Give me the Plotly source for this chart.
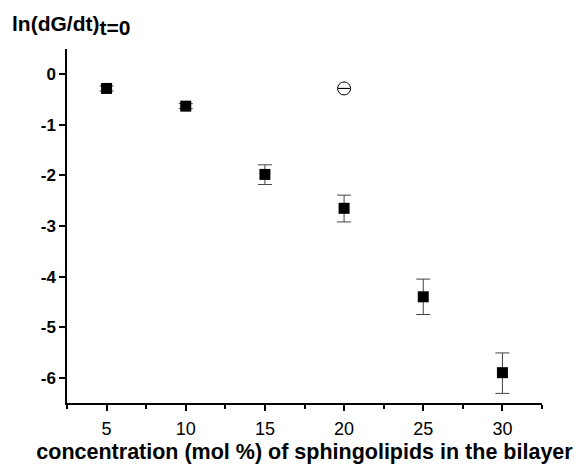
import plotly.graph_objects as go

conc = [5, 10, 15, 20, 25, 30]
ln_rate = [-0.28, -0.63, -1.98, -2.65, -4.40, -5.90]
err_plus = [0.05, 0.05, 0.19, 0.26, 0.35, 0.39]
err_minus = [0.05, 0.05, 0.20, 0.27, 0.35, 0.41]

open_x = [20]
open_y = [-0.28]
open_err = [0.0]

x_tickvals = [5, 10, 15, 20, 25, 30]
x_ticktext = ["5", "10", "15", "20", "25", "30"]
y_tickvals = [0, -1, -2, -3, -4, -5, -6]
y_ticktext = ["0", "-1", "-2", "-3", "-4", "-5", "-6"]

font = "Liberation Sans, Arial, sans-serif"

fig = go.Figure()
fig.add_trace(go.Scatter(
    x=conc, y=ln_rate, mode="markers",
    marker=dict(symbol="square", size=11, color="black"),
    error_y=dict(type="data", symmetric=False, array=err_plus, arrayminus=err_minus,
                 color="#444", thickness=1, width=7),
    showlegend=False,
))
fig.add_trace(go.Scatter(
    x=open_x, y=open_y, mode="markers",
    marker=dict(symbol="circle-open", size=13, color="black", line=dict(width=1)),
    error_y=dict(type="data", array=open_err, color="black", thickness=1, width=6),
    showlegend=False,
))

fig.update_layout(
    width=575, height=467,
    margin=dict(l=67, r=33, t=49, b=64),
    paper_bgcolor="white", plot_bgcolor="white",
    font=dict(family=font, color="black"),
    xaxis=dict(
        range=[2.5, 32.5], tickvals=x_tickvals, ticktext=x_ticktext,
        automargin=False,
        showgrid=False, zeroline=False, showline=True, linecolor="black", linewidth=1.5,
        ticks="outside", ticklen=6, tickwidth=1.5, tickcolor="black",
        ticklabelstandoff=3,
        tickfont=dict(size=18, family=font),
        minor=dict(tickvals=[2.5, 7.5, 12.5, 17.5, 22.5, 27.5, 32.5], ticks="outside",
                   ticklen=4, tickwidth=1.5, tickcolor="black"),
        title=dict(text="<b>concentration (mol %) of sphingolipids in the bilayer</b>",
                   font=dict(size=21.5, family=font), standoff=6),
    ),
    yaxis=dict(
        range=[-6.5, 0.5], tickvals=y_tickvals, ticktext=["<b>%s</b>" % t for t in y_ticktext],
        automargin=False,
        showgrid=False, zeroline=False, showline=True, linecolor="black", linewidth=1.5,
        ticks="outside", ticklen=6, tickwidth=1.5, tickcolor="black",
        tickfont=dict(size=17, family=font),
    ),
    annotations=[dict(
        text="<b>ln(dG/dt)<sub><span style='font-size:21px'>t=0</span></sub></b>",
        x=0, y=1.0, xref="paper", yref="paper",
        xshift=-57, yshift=8, xanchor="left", yanchor="bottom", showarrow=False,
        font=dict(size=21, family=font),
    )],
)

fig.write_html("out.html")
